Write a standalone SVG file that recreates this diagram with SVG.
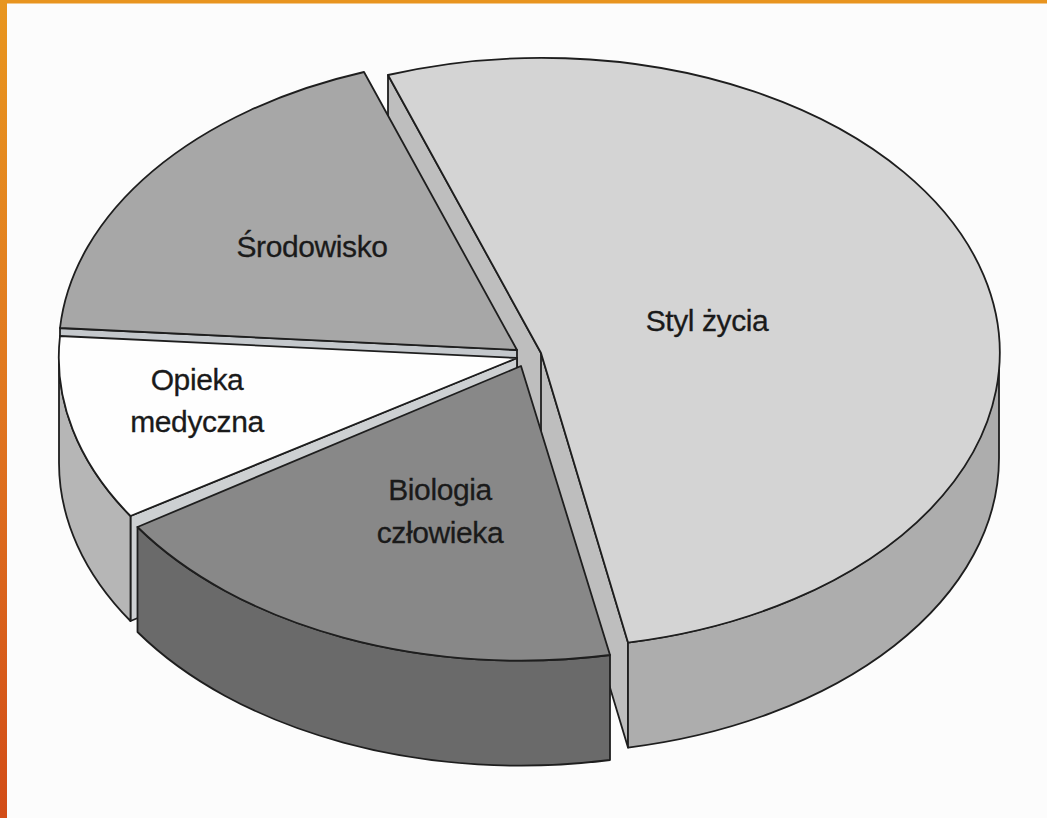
<svg xmlns="http://www.w3.org/2000/svg" width="1047" height="818" viewBox="0 0 1047 818">
  <defs>
    <linearGradient id="edge" x1="0" y1="0" x2="0" y2="1">
      <stop offset="0" stop-color="#E8961F"/>
      <stop offset="0.5" stop-color="#E07620"/>
      <stop offset="1" stop-color="#D24C17"/>
    </linearGradient>
    <style>
      .ln { stroke: #1e1e1e; stroke-width: 1.8; stroke-linejoin: round; }
      .lbl { font-family: "Liberation Sans", Arial, sans-serif; font-size: 30px; fill: #1a1a1a; stroke: #1a1a1a; stroke-width: 0.3; text-anchor: middle; letter-spacing: -0.4px; }
    </style>
  </defs>

  <rect x="0" y="0" width="1047" height="818" fill="#FCFCFC"/>
  <rect x="0" y="0" width="1047" height="3.5" fill="#E8941F"/>
  <rect x="0" y="0" width="7" height="818" fill="url(#edge)"/>

  <g id="styl-zycia">
    <polygon class="ln" fill="#BEBEBE" points="388,75 541,353 628,642.6 628,747.6 541,458 388,180"/>
    <line class="ln" x1="541" y1="353" x2="541" y2="458"/>
    <path class="ln" fill="#ADADAD" d="M999,353 A458,295 0 0 1 628,642.6 L628,747.6 A458,295 0 0 0 999,458 Z"/>
    <path class="ln" fill="#D4D4D4" d="M541,353 L388,75 A458,295 0 1 1 628,642.6 Z"/>
    <text class="lbl" x="707" y="331">Styl życia</text>
  </g>

  <g id="srodowisko">
    <polygon class="ln" fill="#C4C8CC" points="517,350 60,328 60,433 517,455"/>
    <path class="ln" fill="#A7A7A7" d="M517,350 L60,328 A458,295 0 0 1 364,72 Z"/>
    <text class="lbl" x="312" y="257">Środowisko</text>
  </g>

  <g id="opieka-medyczna">
    <polygon class="ln" fill="#CDD0D2" points="517,358 130.5,516 130.5,621 517,463"/>
    <path class="ln" fill="#B6B6B6" d="M130.5,516 A458,295 0 0 1 59,358 L59,463 A458,295 0 0 0 130.5,621 Z"/>
    <path class="ln" fill="#FEFEFE" d="M517,358 L130.5,516 A458,295 0 0 1 60,336 Z"/>
    <text class="lbl" x="197" y="390">Opieka</text>
    <text class="lbl" x="197" y="432">medyczna</text>
  </g>

  <g id="biologia-czlowieka">
    <path class="ln" fill="#6A6A6A" d="M610,655 A458,295 0 0 1 137.5,527 L137.5,632 A458,295 0 0 0 610,760 Z"/>
    <path class="ln" fill="#888888" d="M521,366 L610,655 A458,295 0 0 1 137.5,527 Z"/>
    <text class="lbl" x="440" y="500">Biologia</text>
    <text class="lbl" x="440" y="543">człowieka</text>
  </g>

  <g id="connectors"/>
</svg>
